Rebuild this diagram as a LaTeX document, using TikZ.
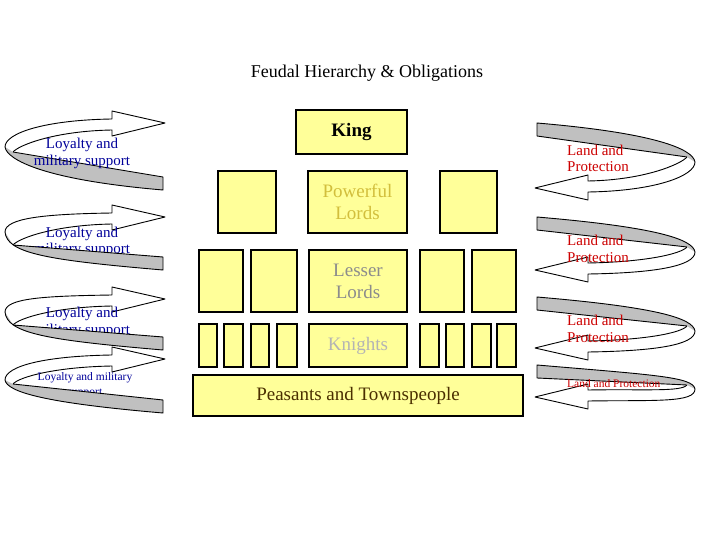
\documentclass[tikz,border=0pt]{standalone}
\usepackage{fontspec}
\setmainfont{Liberation Serif}
\usepackage{xcolor}
\usepackage{tikz}
\usetikzlibrary{positioning}
\definecolor{boxyellow}{HTML}{FFFF99}
\definecolor{bandgray}{HTML}{C0C0C0}
\definecolor{loyalblue}{HTML}{000099}
\definecolor{landred}{HTML}{CC0000}
\definecolor{lordgold}{HTML}{D2BE3C}
\definecolor{lessergray}{HTML}{8C8C8C}
\definecolor{knightgray}{HTML}{B4B4B4}
\definecolor{peasantbrown}{HTML}{4A2F00}

\begin{document}
\begin{tikzpicture}[
  x=1pt, y=-1pt,
  box/.style={rectangle, draw=black, fill=boxyellow, line width=1.3pt,
              inner sep=0pt, align=center},
  rank/.style={font=\fontsize{19}{22}\selectfont},
  duty/.style={align=center, font=\fontsize{15}{16.5}\selectfont, inner sep=0pt},
  loopline/.style={draw=black, line width=0.9pt, line join=round},
  % #1 height, #2 outer turn, #3 start of the front band
  pics/loopback/.style n args={3}{code={
    \fill[white] (0,#2) .. controls (0,#2-14) and (40,9) .. (107,8)
      -- (107,0) -- (160,12) -- (107,25) -- (107,19)
      .. controls (50,20) and (14,#3-7) .. (8,#3) -- cycle;
    \draw[loopline] (0,#2) .. controls (0,#2-14) and (40,9) .. (107,8)
      -- (107,0) -- (160,12) -- (107,25) -- (107,19)
      .. controls (50,20) and (14,#3-7) .. (8,#3);
  }},
  pics/loopfront/.style n args={3}{code={
    \fill[bandgray] (8,#3) -- (158,#1-13)
      -- (158,#1) .. controls (40,#1-10) and (2,#3+8) .. (0,#2) -- cycle;
    \draw[loopline] (8,#3) -- (158,#1-13)
      -- (158,#1) .. controls (40,#1-10) and (2,#3+8) .. (0,#2);
  }}
]
\useasboundingbox (0,0) rectangle (720,540);

% Title
\node[font=\fontsize{18}{20}\selectfont] (title) at (367,73) {Feudal Hierarchy \& Obligations};

% King
\node[box, minimum width=111, minimum height=44, font=\fontsize{19}{22}\selectfont\bfseries]
  (king) at (351.5,132) {King};

% Powerful lords
\node[box, minimum width=58, minimum height=62] (pl1) at (247,202) {};
\node[box, rank, text=lordgold, minimum width=99, minimum height=62] (plords) at (357.5,202) {Powerful\\Lords};
\node[box, minimum width=57, minimum height=62] (pl2) at (468.5,202) {};

% Lesser lords
\node[box, minimum width=44, minimum height=62] (ll1) at (221,281) {};
\node[box, minimum width=46, minimum height=62] (ll2) at (274,281) {};
\node[box, rank, text=lessergray, minimum width=98, minimum height=62] (llords) at (358,281) {Lesser\\Lords};
\node[box, minimum width=44, minimum height=62] (ll3) at (442,281) {};
\node[box, minimum width=44, minimum height=62] (ll4) at (494,281) {};

% Knights
\node[box, minimum width=18, minimum height=43] (kn1) at (208,345.5) {};
\node[box, minimum width=19, minimum height=43] (kn2) at (233.5,345.5) {};
\node[box, minimum width=18, minimum height=43] (kn3) at (260,345.5) {};
\node[box, minimum width=20, minimum height=43] (kn4) at (287,345.5) {};
\node[box, rank, text=knightgray, minimum width=98, minimum height=43] (knights) at (358,345.5) {Knights};
\node[box, minimum width=19, minimum height=43] (kn5) at (429.5,345.5) {};
\node[box, minimum width=18, minimum height=43] (kn6) at (455,345.5) {};
\node[box, minimum width=19, minimum height=43] (kn7) at (481.5,345.5) {};
\node[box, minimum width=19, minimum height=43] (kn8) at (506.5,345.5) {};

% Peasants
\node[box, rank, text=peasantbrown, minimum width=330, minimum height=41]
  (peasants) at (358,395.5) {Peasants and Townspeople};

% Loyalty loops (left)
\pic at (5,111) {loopback={79}{36}{41}};
\pic at (5,111) {loopfront={79}{36}{41}};
\node[duty, text=loyalblue] (loy1) at (82,153.5) {Loyalty and\\military support};

\pic at (5,205) {loopback={65}{27}{40}};
\node[duty, text=loyalblue] (loy2) at (82,242) {Loyalty and\\military support};
\pic at (5,205) {loopfront={65}{27}{40}};

\pic at (5,287) {loopback={63}{25}{38}};
\node[duty, text=loyalblue] (loy3) at (82,322.5) {Loyalty and\\military support};
\pic at (5,287) {loopfront={63}{25}{38}};

\pic at (5,347) {loopback={66}{33}{37}};
\node[duty, text=loyalblue, font=\fontsize{11.5}{15}\selectfont] (loy4) at (85,385) {Loyalty and military\\support};
\pic at (5,347) {loopfront={66}{33}{37}};

% Land loops (right)
\pic[rotate=180] at (695,200) {loopback={77}{38}{43}};
\pic[rotate=180] at (695,200) {loopfront={77}{38}{43}};
\node[duty, align=left, anchor=west, text=landred] (land1) at (567,158.5) {Land and\\Protection};

\pic[rotate=180] at (695,282) {loopback={65}{30}{35}};
\pic[rotate=180] at (695,282) {loopfront={65}{30}{35}};
\node[duty, align=left, anchor=west, text=landred] (land2) at (567,249) {Land and\\Protection};

\pic[rotate=180] at (695,360) {loopback={63}{29}{34}};
\pic[rotate=180] at (695,360) {loopfront={63}{29}{34}};
\node[duty, align=left, anchor=west, text=landred] (land3) at (567,329) {Land and\\Protection};

\pic[rotate=180] at (695,409) {loopback={44}{20}{24}};
\pic[rotate=180] at (695,409) {loopfront={44}{20}{24}};
\node[duty, anchor=west, text=landred, font=\fontsize{11.5}{13}\selectfont] (land4) at (567,384) {Land and Protection};

\end{tikzpicture}
\end{document}
